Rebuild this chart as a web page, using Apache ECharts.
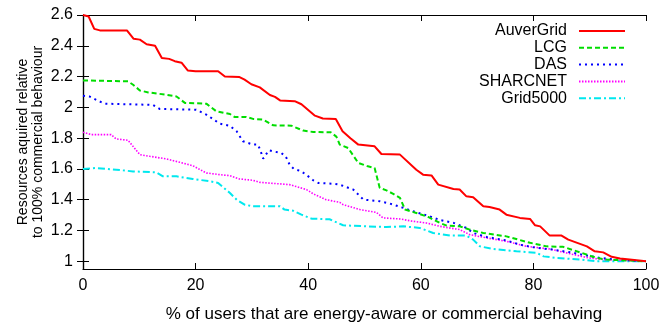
<!DOCTYPE html>
<html>
<head>
<meta charset="utf-8">
<script src="https://cdn.jsdelivr.net/npm/echarts@6/dist/echarts.min.js"></script>
<style>html,body{margin:0;padding:0;background:#fff}#c{width:664px;height:322px}</style>
</head>
<body>
<div id="c"></div>
<script>
const seriesNames = ['AuverGrid', 'LCG', 'DAS', 'SHARCNET', 'Grid5000'];
const xTicks = [0, 20, 40, 60, 80, 100];
const yTicks = [1, 1.2, 1.4, 1.6, 1.8, 2, 2.2, 2.4, 2.6];

const auverGrid = [[0,2.60],[1,2.59],[2,2.51],[3,2.50],[7.8,2.50],[9,2.445],[10.1,2.44],[11.3,2.41],[12.8,2.40],[14,2.32],[15.3,2.315],[16.3,2.30],[17.5,2.29],[18.6,2.24],[20,2.235],[24,2.235],[25.2,2.20],[27.8,2.197],[28.7,2.18],[29.9,2.15],[31.4,2.13],[33.2,2.08],[34.1,2.068],[35,2.045],[37.6,2.04],[38.8,2.02],[41.2,1.946],[42.6,1.928],[44.9,1.925],[46.1,1.845],[47.5,1.80],[48.9,1.758],[51.8,1.747],[53,1.697],[56.3,1.693],[59.2,1.595],[60.4,1.563],[61.9,1.558],[63.1,1.498],[65.8,1.47],[66.9,1.466],[68.1,1.422],[69.3,1.416],[71.1,1.357],[72.2,1.353],[74,1.336],[75.2,1.303],[77.6,1.282],[79.4,1.275],[80.3,1.234],[81.2,1.227],[82.9,1.167],[85,1.167],[86.2,1.141],[89.5,1.097],[90.9,1.065],[92.4,1.058],[93.9,1.029],[95.4,1.018],[100,1.0]];
const lcg = [[0,2.175],[8,2.169],[8.9,2.147],[10.1,2.11],[11.6,2.097],[14.8,2.082],[16.6,2.071],[18.1,2.029],[21.9,2.024],[23.7,1.974],[26.1,1.957],[26.9,1.938],[29,1.938],[30.2,1.925],[32,1.92],[33.8,1.883],[37,1.881],[39.1,1.849],[40.9,1.84],[44,1.838],[45,1.81],[45.6,1.758],[47.1,1.736],[48.9,1.639],[50.6,1.617],[51.8,1.606],[52.7,1.477],[53.9,1.461],[55.1,1.438],[56.3,1.412],[57.2,1.336],[59.2,1.314],[61.3,1.288],[63.4,1.249],[64.6,1.232],[66.9,1.227],[68.7,1.206],[71.1,1.184],[75.2,1.162],[79.4,1.12],[82.4,1.097],[85.3,1.094],[88.3,1.058],[91.2,1.022],[93,1.011],[100,1.0]];
const das = [[0,2.076],[1.2,2.07],[2.9,2.039],[3.9,2.024],[12.4,2.016],[13.6,1.99],[20.1,1.985],[21.9,1.953],[24.3,1.894],[26.1,1.88],[27.3,1.844],[28.4,1.78],[30.2,1.758],[31.1,1.758],[31.7,1.70],[32,1.667],[32.3,1.667],[33,1.721],[33.8,1.714],[35.2,1.704],[36,1.682],[36.7,1.628],[37.4,1.602],[38.8,1.584],[40,1.552],[40.9,1.526],[41.8,1.509],[44.7,1.503],[45.6,1.498],[48,1.466],[49.8,1.401],[52.7,1.39],[54.5,1.375],[56.9,1.347],[59.2,1.318],[61.6,1.292],[63.4,1.268],[65.8,1.25],[68.1,1.217],[69.3,1.184],[71.7,1.158],[75.2,1.136],[77.6,1.108],[80.6,1.087],[83.5,1.076],[87.1,1.055],[89.5,1.037],[91.8,1.022],[94.8,1.011],[100,1.0]];
const sharcnet = [[0,1.838],[1.5,1.823],[5,1.823],[5.9,1.795],[8,1.786],[10.1,1.693],[11.9,1.682],[14.8,1.665],[17.2,1.643],[19.5,1.621],[21.9,1.574],[24.3,1.563],[26.1,1.556],[27.8,1.535],[30.2,1.526],[31.4,1.513],[36.7,1.498],[39.7,1.466],[40.9,1.438],[43.2,1.40],[45.6,1.383],[46.2,1.368],[49.2,1.336],[52.1,1.318],[53.3,1.282],[56.3,1.275],[58.6,1.26],[61,1.249],[63.4,1.227],[66.9,1.206],[68.7,1.173],[71.7,1.152],[75.2,1.13],[78.8,1.097],[82.9,1.08],[87.1,1.044],[89.8,1.022],[92.7,1.011],[100,1.0]];
const grid5000 = [[0,1.60],[2.4,1.606],[5.9,1.595],[8.9,1.584],[13,1.578],[14.2,1.552],[16.6,1.552],[19.5,1.535],[22.5,1.52],[24,1.509],[26.1,1.444],[27.3,1.40],[28.7,1.368],[30.2,1.357],[35,1.357],[35.8,1.336],[37.3,1.329],[38.8,1.303],[40.6,1.277],[43.8,1.273],[46.2,1.234],[50.3,1.227],[53.9,1.223],[56.9,1.227],[59.8,1.217],[62.2,1.184],[65.2,1.167],[68.1,1.167],[69.3,1.141],[70.5,1.097],[72.9,1.08],[77,1.065],[80.6,1.055],[81.8,1.032],[84.1,1.022],[88.3,1.011],[91.2,1.0],[100,1.0]];

const FONT = '"Liberation Sans", Arial, Helvetica, sans-serif';
const chart = echarts.init(document.getElementById('c'), null, {renderer: 'canvas'});

const styles = [
  {color: '#ff0000', type: 'solid', width: 2},
  {color: '#00dd00', type: [5, 3], width: 2},
  {color: '#0000ff', type: [2, 4], width: 2},
  {color: '#ff00ff', type: [1.5, 1.5], width: 1.6},
  {color: '#00e8ee', type: [7, 3, 2, 3], width: 2}
];
const datas = [auverGrid, lcg, das, sharcnet, grid5000];

const tickStyle = {show: true, inside: true, length: 6, lineStyle: {color: '#000', width: 1}};
const lineStyle = {show: true, lineStyle: {color: '#000', width: 1.2}};

chart.setOption({
  animation: false,
  backgroundColor: '#fff',
  grid: {left: 83, right: 18, top: 15, bottom: 53, containLabel: false, outerBoundsMode: 'none'},
  legend: {
    data: seriesNames,
    orient: 'vertical',
    align: 'right',
    right: 38,
    top: 23,
    padding: 0,
    itemGap: 0.8,
    itemWidth: 46,
    itemHeight: 10,
    itemStyle: {opacity: 0},
    textStyle: {fontFamily: FONT, fontSize: 16, color: '#000', lineHeight: 16, padding: [0, 7, 0, 0]}
  },
  xAxis: [{
    type: 'value', min: 0, max: 100, interval: 20, position: 'bottom',
    axisLine: lineStyle, axisTick: tickStyle, splitLine: {show: false},
    axisLabel: {fontFamily: FONT, fontSize: 16, color: '#000', margin: 9},
    name: '% of users that are energy-aware or commercial behaving',
    nameLocation: 'middle', nameGap: 37, nameMoveOverlap: false,
    nameTextStyle: {fontFamily: FONT, fontSize: 17, color: '#000', padding: [0, 0, 0, 39]}
  }, {
    type: 'value', min: 0, max: 100, interval: 20, position: 'top',
    axisLine: lineStyle, axisTick: tickStyle, splitLine: {show: false},
    axisLabel: {show: false}
  }],
  yAxis: [{
    type: 'value', min: 0.95, max: 2.6, position: 'left',
    axisLine: lineStyle, splitLine: {show: false},
    axisTick: Object.assign({customValues: yTicks}, tickStyle),
    axisLabel: {customValues: yTicks, fontFamily: FONT, fontSize: 16, color: '#000', margin: 10, padding: [4, 0, 0, 0]},
    name: 'Resources aquired relative\nto 100% commercial behaviour',
    nameLocation: 'middle', nameGap: 37, nameRotate: 90, nameMoveOverlap: false,
    nameTextStyle: {fontFamily: FONT, fontSize: 14, color: '#000', lineHeight: 15}
  }, {
    type: 'value', min: 0.95, max: 2.6, position: 'right',
    axisLine: lineStyle, splitLine: {show: false},
    axisTick: Object.assign({customValues: yTicks}, tickStyle),
    axisLabel: {show: false}
  }],
  series: seriesNames.map((n, i) => ({
    name: n, type: 'line', xAxisIndex: 0, yAxisIndex: 0,
    data: datas[i], showSymbol: false, symbol: 'none',
    itemStyle: {color: styles[i].color},
    lineStyle: {color: styles[i].color, type: styles[i].type, width: styles[i].width},
    z: 10 - i
  }))
});
</script>
</body>
</html>
